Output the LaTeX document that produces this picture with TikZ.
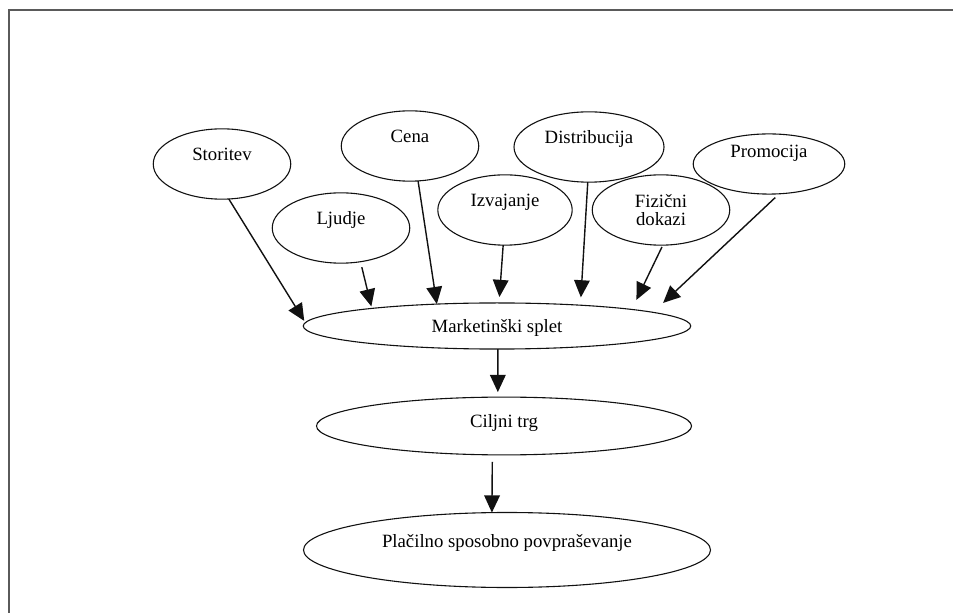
\documentclass[tikz,border=0pt,12pt]{standalone}
\usepackage{fontspec}
\setmainfont{Liberation Serif}
\usetikzlibrary{shapes.geometric,arrows.meta}
\definecolor{ink}{HTML}{111111}
\definecolor{rule}{HTML}{5A5A5A}

\begin{document}
\begin{tikzpicture}[x=0.64pt,y=-0.64pt,oval/.style={ellipse,draw=ink,line width=.7pt,inner sep=0pt,outer sep=0pt,minimum width=88pt,minimum height=45pt},lift/.style={text height=8pt,text depth=#1},flow/.style={-{Triangle[length=11pt,width=10pt]},draw=ink,line width=.9pt}]
\useasboundingbox (0,0) rectangle (953,613);
\draw[rule,line width=1.3pt] (953,10) -- (9,10) -- (9,613);
% the seven elements
\node[oval,lift=12pt] (storitev) at (222,164) {Storitev};
\node[oval,lift=12.5pt] (ljudje) at (341,228) {Ljudje};
\node[oval,lift=12pt] (cena) at (410,146) {Cena};
\node[oval,lift=12pt,minimum width=86pt] (izvajanje) at (505,210) {Izvajanje};
\node[oval,lift=12pt,minimum width=96pt] (distribucija) at (589,147) {Distribucija};
\node[oval,align=center] (dokazi) at (661,210) {Fizični\\[-3pt]dokazi};
\node[oval,lift=16.5pt,minimum width=97pt,minimum height=38.5pt] (promocija) at (769,164) {Promocija};
% the chain below
\node[oval,lift=0pt,minimum width=248pt,minimum height=29.5pt] (splet) at (497,326) {Marketinški splet};
\node[oval,lift=6pt,minimum width=240pt,minimum height=37pt] (trg) at (504,426) {Ciljni trg};
\node[oval,lift=11.7pt,minimum width=260.5pt,minimum height=48pt] (povpr) at (507,550) {Plačilno sposobno povpraševanje};
\draw[flow,shorten >=1.3pt] (storitev.-79) -- (splet.179);
\draw[flow,shorten <=3.6pt,shorten >=1.3pt] (ljudje.-60) -- (splet.172);
\draw[flow] (cena.-77) -- (splet.160);
\draw[flow,shorten >=3.8pt] (izvajanje.-93) -- (splet.85);
\draw[flow,shorten >=5pt] (distribucija.-92) -- (splet.14);
\draw[flow,shorten <=1.3pt,shorten >=6.8pt] (dokazi.-87) -- (splet.7);
\draw[flow,shorten <=3.5pt,shorten >=8.8pt] (promocija.-71) -- (splet.5);
\draw[flow,shorten >=3.2pt] (splet.-88) -- (trg.102);
\draw[flow,shorten <=4.5pt] (trg.-112) -- (povpr.112);
\end{tikzpicture}
\end{document}
